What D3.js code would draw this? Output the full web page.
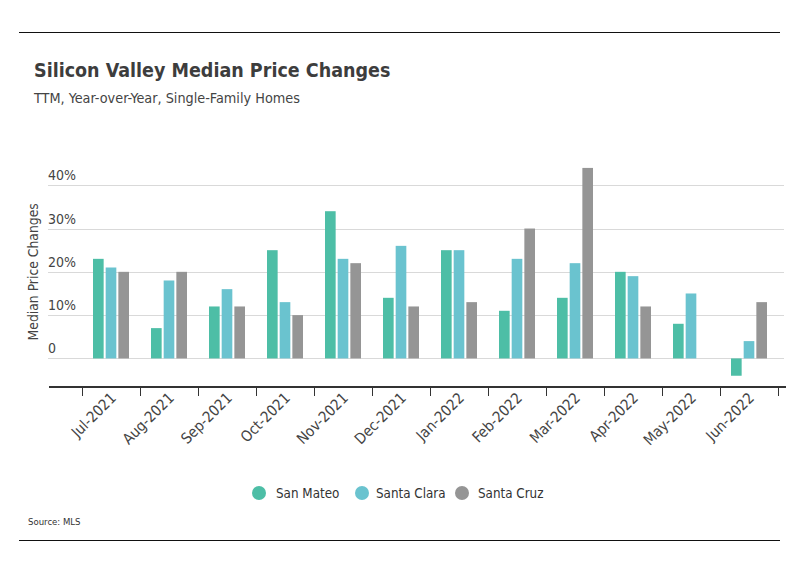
<!DOCTYPE html>
<html>
<head>
<meta charset="utf-8">
<script src="https://cdn.jsdelivr.net/npm/d3@7"></script>
<style>
  html, body { margin: 0; padding: 0; background: #fff; }
  svg { display: block; }
  text { font-family: "Liberation Sans Narrow", "DejaVu Sans Condensed", "Roboto", sans-serif; }
</style>
</head>
<body>
<svg id="chart" width="799" height="575"></svg>
<script>
const months = ["Jul-2021","Aug-2021","Sep-2021","Oct-2021","Nov-2021","Dec-2021","Jan-2022","Feb-2022","Mar-2022","Apr-2022","May-2022","Jun-2022"];
const seriesNames = ["San Mateo","Santa Clara","Santa Cruz"];
const sanMateo  = [23, 7, 12, 25, 34, 14, 25, 11, 14, 20, 8, -4];
const santaClara = [21, 18, 16, 13, 23, 26, 25, 23, 22, 19, 15, 4];
const santaCruz = [20, 20, 12, 10, 22, 12, 13, 30, 44, 12, null, 13];
const yTicks = [0, 10, 20, 30, 40];
const yTickLabels = ["0", "10%", "20%", "30%", "40%"];
const colors = ["#4dbea6", "#6ac3cf", "#959595"];

const seriesValues = [sanMateo, santaClara, santaCruz];

const svg = d3.select("#chart");

// frame lines
svg.append("line").attr("x1", 19).attr("x2", 780).attr("y1", 32.5).attr("y2", 32.5)
  .attr("stroke", "#111").attr("stroke-width", 1.2);
svg.append("line").attr("x1", 19).attr("x2", 780).attr("y1", 540.5).attr("y2", 540.5)
  .attr("stroke", "#111").attr("stroke-width", 1.2);

// titles
svg.append("text").attr("x", 34).attr("y", 77)
  .attr("font-size", 19.5).attr("font-weight", "bold").attr("fill", "#3d3d3d")
  .text("Silicon Valley Median Price Changes");
svg.append("text").attr("x", 34).attr("y", 103)
  .attr("font-size", 14.3).attr("fill", "#444")
  .text("TTM, Year-over-Year, Single-Family Homes");

// scales
const x = d3.scaleBand().domain(months).range([82, 778]).padding(0);
const xInner = d3.scaleBand().domain(seriesNames).range([11, 47]).paddingInner(0.16).paddingOuter(0);
const y = d3.scaleLinear().domain([-6.6, 48]).range([387, 150.6]);

// gridlines
const grid = svg.append("g");
grid.selectAll("line").data(yTicks).join("line")
  .attr("x1", 48).attr("x2", 784)
  .attr("y1", d => Math.round(y(d)) + 0.5).attr("y2", d => Math.round(y(d)) + 0.5)
  .attr("stroke", "#d9d9d9").attr("stroke-width", 1);
grid.selectAll("text").data(yTicks).join("text")
  .attr("x", 48).attr("y", d => y(d) - 5)
  .attr("font-size", 14).attr("fill", "#444")
  .text((d, i) => yTickLabels[i]);

// y title
svg.append("text")
  .attr("transform", `translate(38, ${y(20)}) rotate(-90)`)
  .attr("text-anchor", "middle")
  .attr("font-size", 13.8).attr("fill", "#444")
  .text("Median Price Changes");

// bars
const groups = svg.append("g").selectAll("g").data(months).join("g")
  .attr("transform", d => `translate(${x(d)},0)`);
groups.selectAll("rect")
  .data((m, i) => seriesNames.map((s, k) => ({ s, k, v: seriesValues[k][i] })).filter(d => d.v !== null))
  .join("rect")
  .attr("x", d => xInner(d.s))
  .attr("width", xInner.bandwidth())
  .attr("y", d => Math.min(y(d.v), y(0)))
  .attr("height", d => Math.abs(y(d.v) - y(0)))
  .attr("fill", d => colors[d.k]);

// x axis
const axisY = 387;
svg.append("line").attr("x1", 49).attr("x2", 786).attr("y1", axisY).attr("y2", axisY)
  .attr("stroke", "#333").attr("stroke-width", 2);
const tickPositions = months.map(m => x(m)).concat([x(months[months.length - 1]) + x.bandwidth()]);
svg.append("g").selectAll("line").data(tickPositions).join("line")
  .attr("x1", d => Math.round(d) + 0.5).attr("x2", d => Math.round(d) + 0.5)
  .attr("y1", axisY).attr("y2", axisY + 9)
  .attr("stroke", "#333").attr("stroke-width", 1);
svg.append("g").selectAll("text").data(months).join("text")
  .attr("transform", d => `translate(${x(d) + x.bandwidth() / 2 + 6}, ${axisY + 12}) rotate(-45)`)
  .attr("text-anchor", "end")
  .attr("font-size", 15).attr("fill", "#444")
  .text(d => d);

// legend
const legendItems = [
  { name: seriesNames[0], cx: 259, tx: 276 },
  { name: seriesNames[1], cx: 362, tx: 376 },
  { name: seriesNames[2], cx: 462, tx: 478 }
];
const lg = svg.append("g").selectAll("g").data(legendItems).join("g");
lg.append("circle").attr("cx", d => d.cx).attr("cy", 493).attr("r", 7)
  .attr("fill", (d, i) => colors[i]);
lg.append("text").attr("x", d => d.tx).attr("y", 498)
  .attr("font-size", 13.3).attr("fill", "#333")
  .text(d => d.name);

// source
svg.append("text").attr("x", 28).attr("y", 525)
  .attr("font-size", 9.5).attr("fill", "#333")
  .text("Source:  MLS");
</script>
</body>
</html>
